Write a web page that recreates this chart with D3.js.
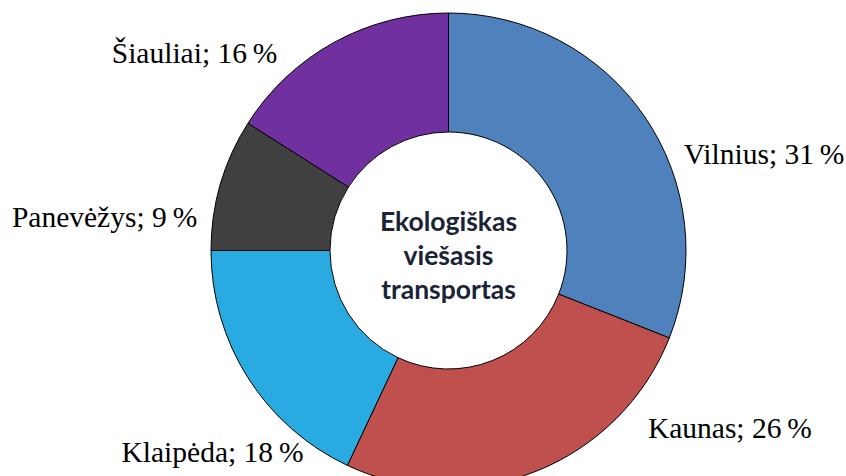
<!DOCTYPE html>
<html>
<head>
<meta charset="utf-8">
<script src="https://cdn.jsdelivr.net/npm/d3@7"></script>
<style>
  html, body { margin: 0; padding: 0; background: #fff; }
  svg { display: block; }
</style>
</head>
<body>
<script>
const width = 846,
  height = 476;

// data
const cities = ["Vilnius", "Kaunas", "Klaipėda", "Panevėžys", "Šiauliai"];
const shares = [31, 26, 18, 9, 16];
const colors = ["#4f81bd", "#c0504d", "#29abe2", "#404040", "#7030a0"];
const centerLines = ["Ekologiškas", "viešasis", "transportas"];

// label nudges from the outer label arc (dx, dy, anchor)
const labelDx = [12, 100, 83, 8, -41];
const labelDy = [65, -64, 67, 52, 49];
const labelAnchor = ["start", "start", "end", "end", "end"];

const cx = 448.5, cy = 250.5;
const outerR = 237.5, innerR = 118.5;

let svg = d3.select("body").append("svg")
  .attr("width", width)
  .attr("height", height);

let g = svg.append("g")
  .attr("transform", `translate(${cx},${cy})`);

let pie = d3.pie()
  .sort(null)
  .value(function(d) { return d; });

let arc = d3.arc()
  .innerRadius(innerR)
  .outerRadius(outerR);

let labelArc = d3.arc()
  .innerRadius(270)
  .outerRadius(270);

let arcs = pie(shares);

g.selectAll(".slice")
  .data(arcs)
  .enter().append("path")
  .attr("class", "slice")
  .attr("d", arc)
  .style("fill", function(d, i) { return colors[i]; })
  .style("stroke", "#000")
  .style("stroke-width", 1);

g.selectAll(".label")
  .data(arcs)
  .enter().append("text")
  .attr("class", "label")
  .attr("x", function(d, i) { return labelArc.centroid(d)[0] + labelDx[i]; })
  .attr("y", function(d, i) { return labelArc.centroid(d)[1] + labelDy[i]; })
  .attr("text-anchor", function(d, i) { return labelAnchor[i]; })
  .style("font-family", "'Liberation Serif', 'Times New Roman', serif")
  .style("font-size", "29.5px")
  .style("fill", "#000")
  .text(function(d, i) { return cities[i] + "; " + shares[i] + "\u2009%"; });

g.selectAll(".center")
  .data(centerLines)
  .enter().append("text")
  .attr("class", "center")
  .attr("x", 0)
  .attr("y", function(d, i) { return -20 + i * 34; })
  .attr("text-anchor", "middle")
  .style("font-family", "Lato, 'Open Sans', sans-serif")
  .style("font-weight", "bold")
  .style("font-size", "26.5px")
  .style("fill", "#1b2437")
  .text(function(d) { return d; });
</script>
</body>
</html>
